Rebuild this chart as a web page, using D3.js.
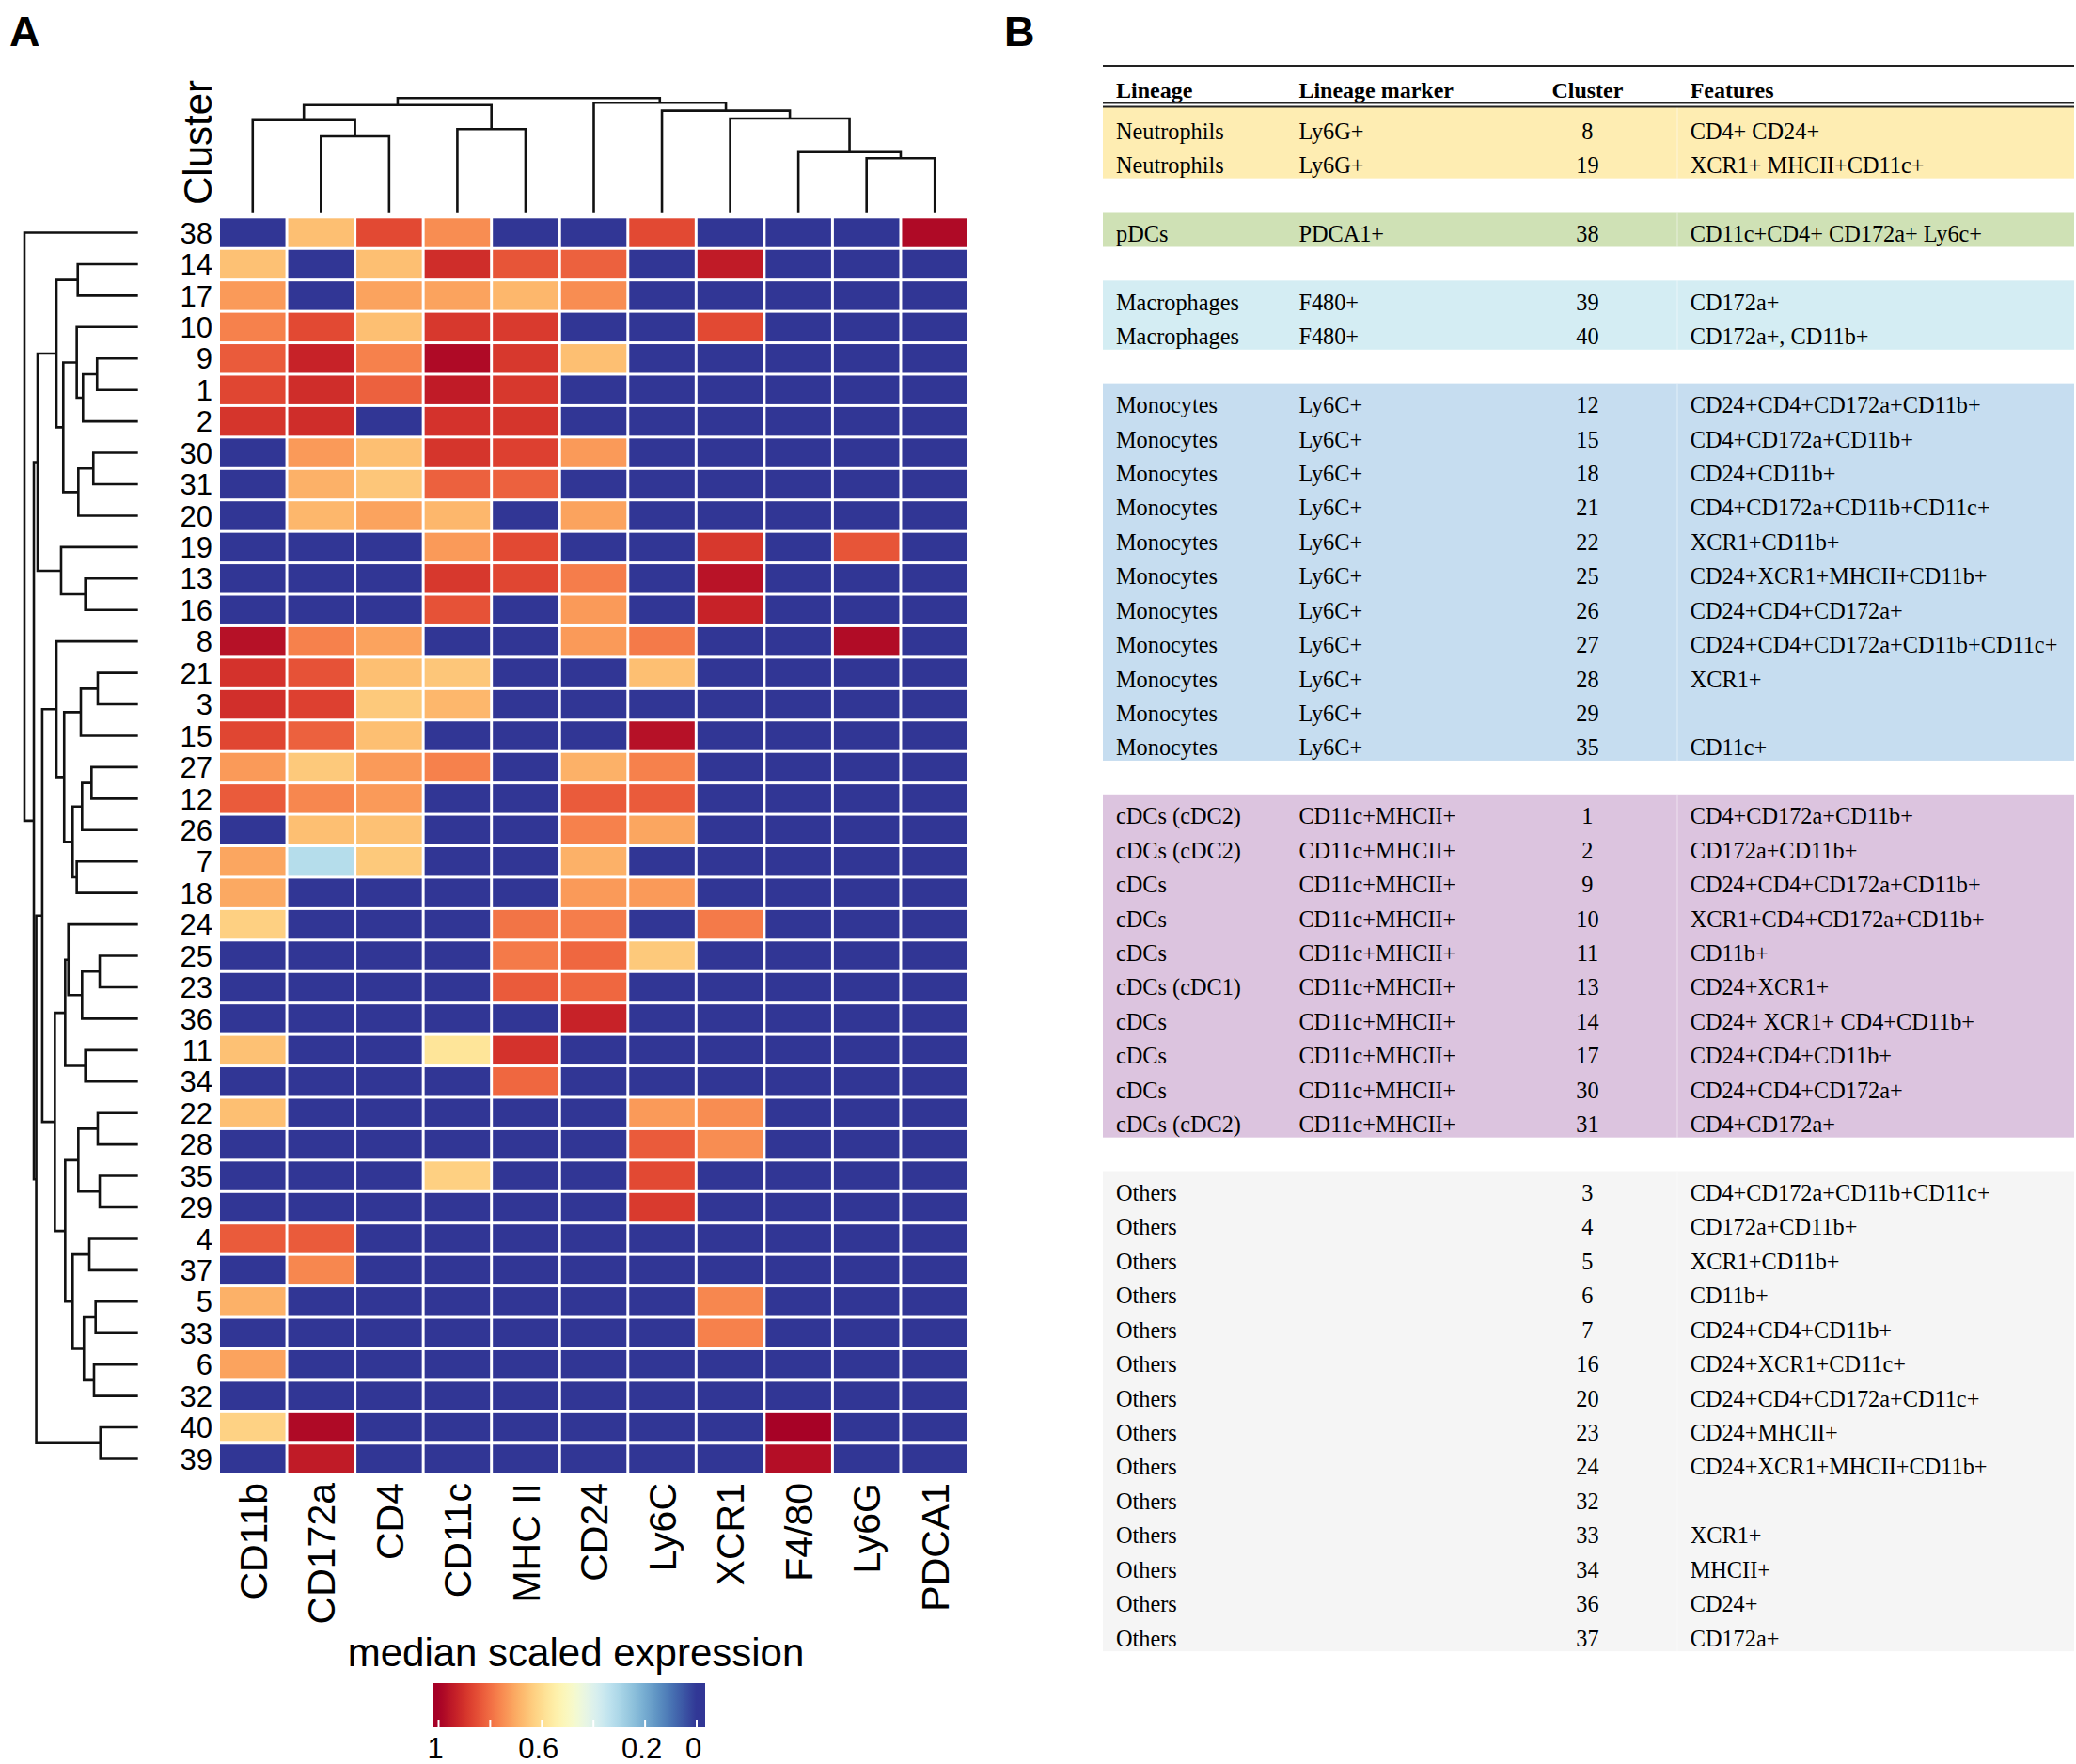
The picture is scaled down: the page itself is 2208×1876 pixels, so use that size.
<!DOCTYPE html>
<html><head><meta charset="utf-8">
<script src="https://cdn.jsdelivr.net/npm/d3@7"></script>
<style>body{margin:0;background:#fff} svg{display:block}</style>
</head><body>
<svg id="chart" width="2208" height="1876"></svg>
<script>
// ---------------- DATA ----------------
const markers = ["CD11b","CD172a","CD4","CD11c","MHC II","CD24","Ly6C","XCR1","F4/80","Ly6G","PDCA1"];
const clusters = [38,14,17,10,9,1,2,30,31,20,19,13,16,8,21,3,15,27,12,26,7,18,24,25,23,36,11,34,22,28,35,29,4,37,5,33,6,32,40,39];
const expression = [
 [0,0.665,0.86,0.75,0,0,0.86,0,0,0,0.98],
 [0.66,0,0.665,0.91,0.84,0.82,0,0.945,0,0,0],
 [0.73,0,0.715,0.715,0.68,0.75,0,0,0,0,0],
 [0.77,0.86,0.665,0.89,0.885,0,0,0.86,0,0,0],
 [0.83,0.93,0.77,0.98,0.89,0.665,0,0,0,0,0],
 [0.865,0.91,0.82,0.945,0.89,0,0,0,0,0,0],
 [0.895,0.91,0,0.9,0.895,0,0,0,0,0,0],
 [0,0.73,0.665,0.895,0.875,0.73,0,0,0,0,0],
 [0,0.69,0.65,0.82,0.82,0,0,0,0,0,0],
 [0,0.68,0.715,0.68,0,0.715,0,0,0,0,0],
 [0,0,0,0.73,0.86,0,0,0.89,0,0.84,0],
 [0,0,0,0.89,0.865,0.775,0,0.96,0,0,0],
 [0,0,0,0.845,0,0.73,0,0.93,0,0,0],
 [0.965,0.77,0.715,0,0,0.73,0.78,0,0,0.975,0],
 [0.9,0.845,0.665,0.65,0,0,0.665,0,0,0,0],
 [0.905,0.875,0.645,0.68,0,0,0,0,0,0,0],
 [0.865,0.82,0.665,0,0,0,0.965,0,0,0,0],
 [0.73,0.645,0.73,0.77,0,0.69,0.77,0,0,0,0],
 [0.83,0.76,0.73,0,0,0.83,0.83,0,0,0,0],
 [0,0.665,0.66,0,0,0.77,0.71,0,0,0,0],
 [0.71,0.32,0.645,0,0,0.69,0,0,0,0,0],
 [0.705,0,0,0,0,0.73,0.73,0,0,0,0],
 [0.63,0,0,0,0.79,0.775,0,0.78,0,0,0],
 [0,0,0,0,0.78,0.81,0.645,0,0,0,0],
 [0,0,0,0,0.83,0.81,0,0,0,0,0],
 [0,0,0,0,0,0.93,0,0,0,0,0],
 [0.66,0,0,0.58,0.9,0,0,0,0,0,0],
 [0,0,0,0,0.81,0,0,0,0,0,0],
 [0.665,0,0,0,0,0,0.73,0.75,0,0,0],
 [0,0,0,0,0,0,0.83,0.75,0,0,0],
 [0,0,0,0.63,0,0,0.86,0,0,0,0],
 [0,0,0,0,0,0,0.885,0,0,0,0],
 [0.83,0.83,0,0,0,0,0,0,0,0,0],
 [0,0.76,0,0,0,0,0,0,0,0,0],
 [0.69,0,0,0,0,0,0,0.76,0,0,0],
 [0,0,0,0,0,0,0,0.77,0,0,0],
 [0.715,0,0,0,0,0,0,0,0,0,0],
 [0,0,0,0,0,0,0,0,0,0,0],
 [0.625,0.98,0,0,0,0,0,0,0.995,0,0],
 [0,0.945,0,0,0,0,0,0,0.97,0,0]
];
// dendrograms: [mergeHeight, childA, childB]; leaves are labels
const rowTree = [1.0, 38,
  [0.917,
    [0.884,
      [0.718, [0.530, 14, 17],
              [0.658, [0.539, 10, [0.484, [0.360, 9, 1], 2]], [0.525, [0.393, 30, 31], 20]]],
      [0.677, 19, [0.464, 13, 16]]],
    [0.896,
      [0.843,
        [0.718, 8, [0.650, [0.503, [0.354, 21, 3], 15],
                           [0.575, [0.492, [0.409, 27, 12], 26], [0.539, 7, 18]]]],
        [0.732,
          [0.641, [0.613, 24, [0.492, [0.337, 25, 23], 36]], [0.464, 11, 34]],
          [0.641, [0.525, [0.354, 22, 28], [0.337, 35, 29]],
                  [0.575, [0.428, 4, 37], [0.476, [0.373, 5, 33], [0.387, 6, 32]]]]]],
      [0.331, 40, 39]]]];
const colTree = [1.0,
  [0.939, [0.807, "CD11b", [0.665, "CD172a", "CD4"]], [0.728, "CD11c", "MHC II"]],
  [0.959, "CD24", [0.890, "Ly6C", [0.821, "XCR1", [0.527, "F4/80", [0.473, "Ly6G", "PDCA1"]]]]]];

const legendTitle = "median scaled expression";
const legendTickMarks = [1, 0.8, 0.6, 0.4, 0.2, 0];
const legendTickLabels = [1, 0.6, 0.2, 0];

const tableHeader = ["Lineage", "Lineage marker", "Cluster", "Features"];
const tableGroup = [0,0,1,2,2,3,3,3,3,3,3,3,3,3,3,3,4,4,4,4,4,4,4,4,4,4,5,5,5,5,5,5,5,5,5,5,5,5,5,5];
const tableLineage = ["Neutrophils","Neutrophils","pDCs","Macrophages","Macrophages",
  "Monocytes","Monocytes","Monocytes","Monocytes","Monocytes","Monocytes","Monocytes","Monocytes","Monocytes","Monocytes","Monocytes",
  "cDCs (cDC2)","cDCs (cDC2)","cDCs","cDCs","cDCs","cDCs (cDC1)","cDCs","cDCs","cDCs","cDCs (cDC2)",
  "Others","Others","Others","Others","Others","Others","Others","Others","Others","Others","Others","Others","Others","Others"];
const tableMarker = ["Ly6G+","Ly6G+","PDCA1+","F480+","F480+",
  "Ly6C+","Ly6C+","Ly6C+","Ly6C+","Ly6C+","Ly6C+","Ly6C+","Ly6C+","Ly6C+","Ly6C+","Ly6C+",
  "CD11c+MHCII+","CD11c+MHCII+","CD11c+MHCII+","CD11c+MHCII+","CD11c+MHCII+","CD11c+MHCII+","CD11c+MHCII+","CD11c+MHCII+","CD11c+MHCII+","CD11c+MHCII+",
  "","","","","","","","","","","","","",""];
const tableCluster = [8,19,38,39,40,12,15,18,21,22,25,26,27,28,29,35,1,2,9,10,11,13,14,17,30,31,3,4,5,6,7,16,20,23,24,32,33,34,36,37];
const tableFeatures = ["CD4+ CD24+","XCR1+ MHCII+CD11c+","CD11c+CD4+ CD172a+ Ly6c+","CD172a+","CD172a+, CD11b+",
  "CD24+CD4+CD172a+CD11b+","CD4+CD172a+CD11b+","CD24+CD11b+","CD4+CD172a+CD11b+CD11c+","XCR1+CD11b+","CD24+XCR1+MHCII+CD11b+","CD24+CD4+CD172a+","CD24+CD4+CD172a+CD11b+CD11c+","XCR1+","","CD11c+",
  "CD4+CD172a+CD11b+","CD172a+CD11b+","CD24+CD4+CD172a+CD11b+","XCR1+CD4+CD172a+CD11b+","CD11b+","CD24+XCR1+","CD24+ XCR1+ CD4+CD11b+","CD24+CD4+CD11b+","CD24+CD4+CD172a+","CD4+CD172a+",
  "CD4+CD172a+CD11b+CD11c+","CD172a+CD11b+","XCR1+CD11b+","CD11b+","CD24+CD4+CD11b+","CD24+XCR1+CD11c+","CD24+CD4+CD172a+CD11c+","CD24+MHCII+","CD24+XCR1+MHCII+CD11b+","","XCR1+","MHCII+","CD24+","CD172a+"];

// ---------------- STYLE ----------------
const groupColors = ["#feedb2","#cfe1b5","#d4edf3","#c6ddf0","#dcc4df","#f5f5f5"];
const SANS = "'Liberation Sans', Arial, Helvetica, sans-serif";
const SERIF = "'Liberation Serif', 'Times New Roman', serif";
const LINE = "#111";

const svg = d3.select("#chart");
svg.append("rect").attr("width",2208).attr("height",1876).attr("fill","#fff");

// panel letters
svg.append("text").attr("x",10).attr("y",49).text("A")
  .attr("font-family",SANS).attr("font-weight","bold").attr("font-size",45);
svg.append("text").attr("x",1068).attr("y",49).text("B")
  .attr("font-family",SANS).attr("font-weight","bold").attr("font-size",45);

// ---------------- HEATMAP ----------------
const x = d3.scaleBand().domain(markers).range([232.5, 1030.5]);
const y = d3.scaleBand().domain(clusters).range([230.8, 1568.2]);
const color = v => d3.interpolateRdYlBu(1 - v);
const gap = 3;

const cells = [];
clusters.forEach((c, i) => markers.forEach((m, j) => cells.push({c, m, v: expression[i][j]})));
svg.append("g").selectAll("rect").data(cells).join("rect")
  .attr("x", d => x(d.m) + gap/2).attr("y", d => y(d.c) + gap/2)
  .attr("width", x.bandwidth() - gap).attr("height", y.bandwidth() - gap)
  .attr("fill", d => color(d.v));

// row labels
const rowAxis = svg.append("g").attr("transform","translate(232.5,0)")
  .call(d3.axisLeft(y).tickSize(0).tickPadding(6.5));
rowAxis.select(".domain").remove();
rowAxis.selectAll("text").attr("font-family",SANS).attr("font-size",31).attr("fill","#000").attr("dy","0.36em");

// column labels
const colAxis = svg.append("g").attr("transform","translate(0,1577)")
  .call(d3.axisBottom(x).tickSize(0));
colAxis.select(".domain").remove();
colAxis.selectAll("text").attr("font-family",SANS).attr("font-size",41).attr("fill","#000")
  .attr("transform","rotate(-90)").attr("x",0).attr("y",0).attr("dy","0.36em").attr("text-anchor","end");

// "Cluster" label
svg.append("text").attr("transform","translate(225,218) rotate(-90)")
  .attr("font-family",SANS).attr("font-size",42).text("Cluster");

// ---------------- DENDROGRAMS ----------------
function layout(tree, leafPos) {
  const root = d3.hierarchy(tree, d => Array.isArray(d) ? d.slice(1) : null);
  root.eachAfter(n => {
    if (!n.children) { n.pos = leafPos(n.data); n.h = 0; }
    else { n.pos = d3.mean(n.children, c => c.pos); n.h = n.data[0]; }
  });
  return root;
}
// row dendrogram (left)
const hRow = d3.scaleLinear().domain([0, 1]).range([146.7, 26]);
const rRoot = layout(rowTree, d => y(d) + y.bandwidth()/2);
svg.append("g").selectAll("path").data(rRoot.descendants().filter(n => n.children)).join("path")
  .attr("d", n => {
    const [a, b] = n.children;
    return `M${hRow(a.h)},${a.pos}H${hRow(n.h)}V${b.pos}H${hRow(b.h)}`;
  })
  .attr("fill","none").attr("stroke",LINE).attr("stroke-width",2.6);

// column dendrogram (top)
const hCol = d3.scaleLinear().domain([0, 1]).range([225.7, 104.3]);
const cRoot = layout(colTree, d => x(d) + x.bandwidth()/2);
svg.append("g").selectAll("path").data(cRoot.descendants().filter(n => n.children)).join("path")
  .attr("d", n => {
    const [a, b] = n.children;
    return `M${a.pos},${hCol(a.h)}V${hCol(n.h)}H${b.pos}V${hCol(b.h)}`;
  })
  .attr("fill","none").attr("stroke",LINE).attr("stroke-width",2.6);

// ---------------- LEGEND ----------------
svg.append("text").attr("x",612.5).attr("y",1772).attr("text-anchor","middle")
  .attr("font-family",SANS).attr("font-size",42).text(legendTitle);

const lx = d3.scaleLinear().domain([1, 0]).range([466.5, 741]);
const barX0 = 460, barX1 = 750, barY0 = 1790, barY1 = 1837;
const grad = svg.append("defs").append("linearGradient").attr("id","lg")
  .attr("gradientUnits","userSpaceOnUse").attr("x1",barX0).attr("x2",barX1).attr("y1",0).attr("y2",0);
d3.range(0, 61).forEach(k => {
  const px = barX0 + k * (barX1 - barX0) / 60;
  const v = Math.max(0, Math.min(1, lx.invert(px)));
  grad.append("stop").attr("offset", (k/60)).attr("stop-color", color(v));
});
svg.append("rect").attr("x",barX0).attr("y",barY0).attr("width",barX1-barX0).attr("height",barY1-barY0)
  .attr("fill","url(#lg)");
svg.append("g").selectAll("line").data(legendTickMarks).join("line")
  .attr("x1", d => lx(d)).attr("x2", d => lx(d)).attr("y1", barY1 - 8).attr("y2", barY1)
  .attr("stroke","#fff").attr("stroke-width",2);
const legAxis = svg.append("g").attr("transform",`translate(0,${barY1})`)
  .call(d3.axisBottom(lx).tickValues(legendTickLabels).tickSize(0).tickFormat(d3.format("")));
legAxis.select(".domain").remove();
legAxis.selectAll("text").attr("font-family",SANS).attr("font-size",31).attr("fill","#000")
  .attr("y",33).attr("dy",0).attr("dx",-4);

// ---------------- TABLE ----------------
const tX0 = 1173, tX1 = 2206;
const colX = [1187, 1381.4, 1688.4, 1797.7];
const headerBaseline = 104, rule2Y = 113.5;
const baseline = slot => 147.7 + 36.43 * slot;
const slots = tableGroup.map((g, i) => i + g);

const tg = svg.append("g");
// bands
d3.range(groupColors.length).forEach(g => {
  const rows = slots.filter((s, i) => tableGroup[i] === g);
  const top = g === 0 ? rule2Y : baseline(d3.min(rows)) - 31.5;
  const bot = baseline(d3.max(rows)) + 5.5;
  tg.append("rect").attr("x",tX0).attr("y",top).attr("width",tX1-tX0).attr("height",bot-top)
    .attr("fill",groupColors[g]);
  tg.append("line").attr("x1",1784).attr("x2",1784).attr("y1",top).attr("y2",bot)
    .attr("stroke","#fff").attr("stroke-opacity",0.35).attr("stroke-width",1.5);
});
// rules
tg.append("line").attr("x1",tX0).attr("x2",tX1).attr("y1",70).attr("y2",70).attr("stroke","#222").attr("stroke-width",2);
tg.append("line").attr("x1",tX0).attr("x2",tX1).attr("y1",109.5).attr("y2",109.5).attr("stroke","#222").attr("stroke-width",2);
tg.append("line").attr("x1",tX0).attr("x2",tX1).attr("y1",113.5).attr("y2",113.5).attr("stroke","#222").attr("stroke-width",2);
// header
tg.selectAll("text.h").data(tableHeader).join("text").attr("class","h")
  .attr("x",(d,i) => colX[i]).attr("y",headerBaseline)
  .attr("text-anchor",(d,i) => i === 2 ? "middle" : "start")
  .attr("font-family",SERIF).attr("font-weight","bold").attr("font-size",24).attr("fill","#000").text(d => d);
// body
const cols = [tableLineage, tableMarker, tableCluster, tableFeatures];
cols.forEach((arr, ci) => {
  tg.append("g").selectAll("text").data(arr).join("text")
    .attr("x", colX[ci]).attr("y", (d, i) => baseline(slots[i]))
    .attr("text-anchor", ci === 2 ? "middle" : "start")
    .attr("font-family",SERIF).attr("font-size",24.3).attr("fill","#000").text(d => d);
});
</script>
</body></html>
